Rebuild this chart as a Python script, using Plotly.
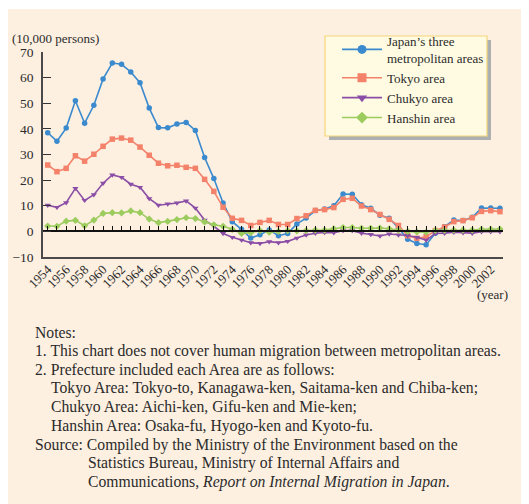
import plotly.graph_objects as go

years = list(range(1954, 2004))

three_areas = [38.5, 35.2, 40.3, 51.0, 42.2, 49.2, 59.5, 65.7, 65.2, 62.2,
               58.0, 48.1, 40.5, 40.4, 41.9, 42.5, 39.4, 28.8, 20.6, 11.1,
               3.8, 0.8, -2.6, -1.3, 0.5, -1.7, -0.8, 2.9, 5.2, 8.1,
               8.7, 10.0, 14.6, 14.5, 10.4, 9.0, 6.3, 5.1, 1.3, -3.1,
               -4.7, -5.2, -0.7, 1.8, 4.4, 4.2, 5.5, 9.1, 9.1, 9.0]

tokyo = [25.9, 23.3, 24.6, 29.5, 27.4, 30.1, 33.2, 36.0, 36.4, 35.6,
         32.9, 29.7, 26.6, 25.6, 25.8, 25.0, 24.6, 20.3, 15.6, 9.4,
         5.1, 4.3, 2.3, 3.5, 4.3, 2.7, 2.7, 5.0, 6.1, 8.2,
         8.5, 9.3, 12.5, 12.9, 9.9, 8.5, 6.6, 4.7, 2.3, -1.7,
         -2.7, -2.1, 0.3, 1.7, 3.8, 4.2, 5.3, 7.8, 8.1, 7.7]

chukyo = [10.2, 9.4, 11.2, 16.8, 12.1, 14.3, 18.8, 22.0, 21.1, 18.4,
          17.2, 12.8, 10.2, 10.7, 11.1, 11.9, 9.1, 4.4, 2.0, -0.8,
          -2.3, -3.4, -4.4, -4.7, -4.0, -4.4, -3.9, -2.6, -1.4, -0.7,
          -0.4, -0.5, 0.3, 0.3, -0.7, -1.2, -1.8, -1.0, -1.4, -1.6,
          -2.3, -3.4, -0.8, -0.7, -0.3, -0.5, -0.7, -0.1, -0.1, -0.1]

hanshin = [2.1, 2.0, 4.0, 4.3, 2.2, 4.4, 7.0, 7.3, 7.2, 8.0,
           7.3, 4.8, 3.4, 3.9, 4.6, 5.3, 5.0, 3.7, 2.6, 2.0,
           0.8, -0.8, -0.5, 0.3, -0.3, 0.0, 0.3, 0.2, 0.3, 0.5,
           0.5, 1.0, 1.5, 1.5, 1.2, 1.2, 1.3, 1.0, 0.5, 0.0,
           -0.2, -0.3, 0.4, 0.4, 0.5, 0.5, 0.5, 0.8, 0.8, 0.9]

series_names = ["Japan\u2019s three<br>metropolitan areas", "Tokyo area", "Chukyo area", "Hanshin area"]
series_values = [three_areas, tokyo, chukyo, hanshin]
series_colors = ["#3b8ace", "#f4826a", "#8b4ea6", "#9ccb5e"]
series_symbols = ["circle", "square", "triangle-down", "diamond"]

notes_lines = [
    ("Notes:", 0),
    ("1. This chart does not cover human migration between metropolitan areas.", 0),
    ("2. Prefecture included each Area are as follows:", 0),
    ("Tokyo Area: Tokyo-to, Kanagawa-ken, Saitama-ken and Chiba-ken;", 1),
    ("Chukyo Area: Aichi-ken, Gifu-ken and Mie-ken;", 1),
    ("Hanshin Area: Osaka-fu, Hyogo-ken and Kyoto-fu.", 1),
    ("Source: Compiled by the Ministry of the Environment based on the", 0),
    ("Statistics Bureau, Ministry of Internal Affairs and", 2),
    ("Communications, <i>Report on Internal Migration in Japan</i>.", 2),
]

# ---- layout geometry (page pixels; the page body adds an 8px offset) ----
OFF = 8
W, H = 529 - OFF, 504 - OFF
L, R, T, B = 43, 503, 52, 257          # plot area in page pixels
PW, PH = R - L, B - T

def px_x(x):
    return (x - L) / PW

def px_y(y):
    return (B - y) / PH

FONT = "Liberation Serif, Times New Roman, serif"
CREAM = "#fdf0e1"
TXT = "#2b2b2b"

fig = go.Figure()

for name, vals, col, sym in zip(series_names, series_values, series_colors, series_symbols):
    fig.add_trace(go.Scatter(
        x=years, y=vals, mode="lines+markers", name=name, showlegend=False,
        line=dict(color=col, width=1.6),
        marker=dict(color=col, symbol=sym, size=5.5),
        cliponaxis=False,
    ))
# legend entries (bigger symbols than the plot markers)
for name, col, sym in zip(series_names, series_colors, series_symbols):
    fig.add_trace(go.Scatter(
        x=[None], y=[None], mode="lines+markers", name=name, showlegend=True,
        line=dict(color=col, width=1.6),
        marker=dict(color=col, symbol=sym, size=9),
    ))
# helper trace for the zero-line axis
fig.add_trace(go.Scatter(x=[years[0]], y=[0], xaxis="x2", yaxis="y",
                         mode="markers", marker=dict(opacity=0), showlegend=False,
                         hoverinfo="skip"))

xrange = [1953.49, 2003.33]

fig.update_layout(
    template="none",
    width=W, height=H,
    margin=dict(l=L - OFF, r=529 - R, t=T - OFF, b=504 - B, pad=0, autoexpand=False),
    paper_bgcolor=CREAM,
    plot_bgcolor=CREAM,
    font=dict(family=FONT, size=13, color=TXT),
    xaxis=dict(
        range=xrange, showgrid=False, zeroline=False, automargin=False,
        showline=True, linecolor="#4a4a4a", linewidth=1.5,
        ticks="", tickmode="array",
        tickvals=years[::2], ticktext=[str(y) for y in years[::2]],
        tickangle=-45, tickfont=dict(size=13, family=FONT, color=TXT),
        ticklabelstandoff=-2,
    ),
    xaxis2=dict(
        range=xrange, overlaying="x", anchor="free", position=10 / 80,
        side="bottom", showgrid=False, zeroline=False, automargin=False,
        showline=True, linecolor="#111111", linewidth=1.5,
        ticks="inside", ticklen=5, tickwidth=1, tickcolor="#111111",
        tickmode="linear", tick0=1954, dtick=1, showticklabels=False,
    ),
    yaxis=dict(
        range=[-10, 70], showgrid=False, zeroline=False, automargin=False,
        showline=True, linecolor="#4a4a4a", linewidth=1.5,
        ticks="inside", ticklen=8, tickwidth=1.2, tickcolor="#333333",
        tickmode="linear", tick0=-10, dtick=10,
        tickfont=dict(size=13.5, family=FONT, color=TXT),
        ticklabelstandoff=5,
    ),
    showlegend=True,
    legend=dict(
        x=px_x(337), y=px_y(26), xanchor="left", yanchor="top",
        bgcolor="rgba(0,0,0,0)", borderwidth=0,
        font=dict(size=13, family=FONT, color=TXT),
        itemwidth=40, tracegroupgap=0,
    ),
)

# white page strip on top, legend shadow and box
fig.add_shape(type="rect", xref="paper", yref="paper",
              x0=px_x(0), x1=px_x(530), y0=px_y(9), y1=px_y(OFF - 1),
              fillcolor="white", line=dict(width=0), layer="below")
fig.add_shape(type="rect", xref="paper", yref="paper",
              x0=px_x(329), x1=px_x(491), y0=px_y(140), y1=px_y(40),
              fillcolor="#adb0b0", line=dict(width=0), layer="below")
fig.add_shape(type="rect", xref="paper", yref="paper",
              x0=px_x(325), x1=px_x(487), y0=px_y(136), y1=px_y(36),
              fillcolor="#fffbe2", line=dict(color="#f6d57a", width=1.2), layer="below")

# axis titles
fig.add_annotation(text="(10,000 persons)", xref="paper", yref="paper",
                   x=px_x(10), y=px_y(39), xanchor="left", yanchor="middle",
                   showarrow=False, font=dict(size=13, family=FONT, color=TXT))
fig.add_annotation(text="(year)", xref="paper", yref="paper",
                   x=px_x(510), y=px_y(294), xanchor="right", yanchor="middle",
                   showarrow=False, font=dict(size=13, family=FONT, color=TXT))

# notes
indent_px = [33, 49, 86]
for i, (txt, ind) in enumerate(notes_lines):
    fig.add_annotation(text=txt, xref="paper", yref="paper",
                       x=px_x(indent_px[ind]), y=px_y(332 + i * 18.75),
                       xanchor="left", yanchor="middle", showarrow=False,
                       font=dict(size=15.7, family=FONT, color=TXT))

fig.write_html("out.html")
